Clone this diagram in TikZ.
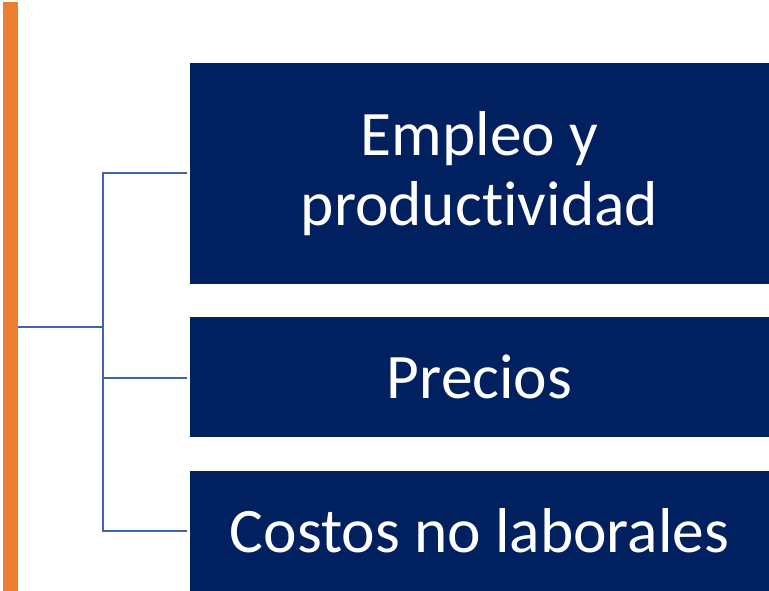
\documentclass[tikz,border=0pt]{standalone}
\usepackage{fontspec}
\setmainfont[Ligatures=NoCommon]{Carlito}
\definecolor{barorange}{HTML}{ED7D31}
\definecolor{boxnavy}{HTML}{002060}
\definecolor{linkblue}{RGB}{64,100,168}
\tikzset{
  itembox/.style={fill=boxnavy, draw=none, text=white, align=center, inner sep=0pt,
    font=\fontsize{63.4}{70}\selectfont},
  link/.style={draw=linkblue, line width=2.2pt},
}
\begin{document}
\begin{tikzpicture}[x=1pt,y=-1pt]
\useasboundingbox (0,0) rectangle (769,591);
\fill[barorange] (3,2) rectangle (18,591);
\node[coordinate] (barpt) at (18,327) {};
\node[itembox, minimum width=579pt, minimum height=221pt] (b1) at (479.5,173.5) {Empleo y\\productividad};
\node[itembox, minimum width=579pt, minimum height=120pt] (b2) at (479.5,377) {Precios};
\node[itembox, minimum width=579pt, minimum height=120pt] (b3) at (479.5,531) {Costos no laborales};
\coordinate (hub) at (103,327);
\coordinate (e1) at (187,173);
\coordinate (e2) at (187,378);
\coordinate (e3) at (187,531);
\draw[link] (barpt) -- (hub);
\draw[link] (e1) -| (hub |- e3) -- (e3);
\draw[link] (hub |- e2) -- (e2);
\end{tikzpicture}
\end{document}
